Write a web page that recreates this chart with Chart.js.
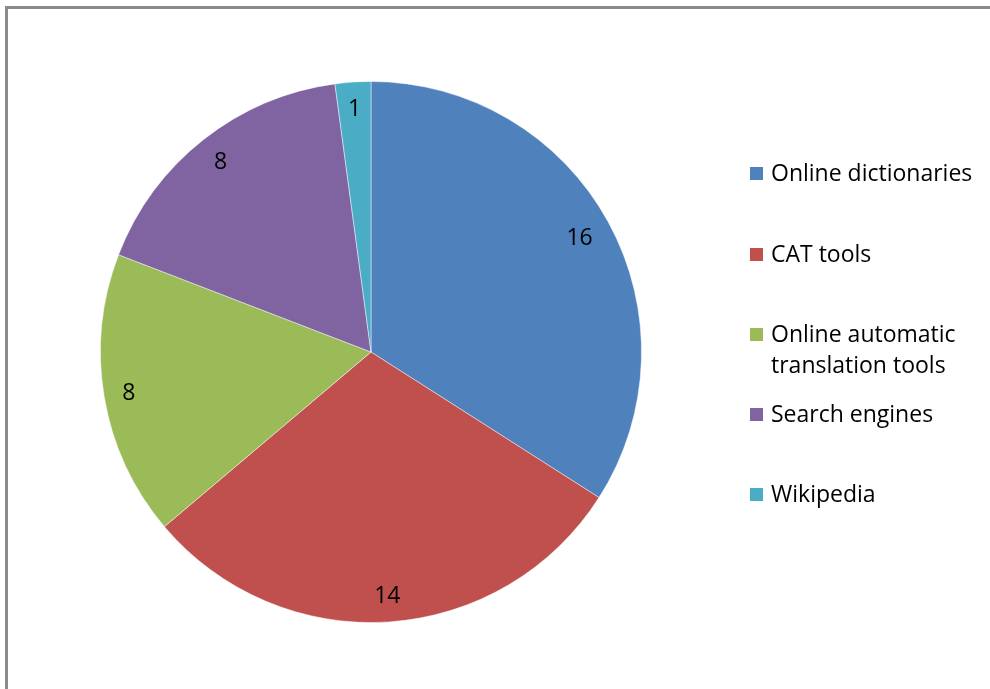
<!DOCTYPE html>
<html>
<head>
<meta charset="utf-8">
<script src="https://cdn.jsdelivr.net/npm/chart.js@4"></script>
<style>
  body { margin: 0; background: #fff; overflow: hidden; }
  #wrap { position: relative; width: 990px; height: 689px; }
  #frame {
    position: absolute; left: 5px; top: 6px; width: 1000px; height: 700px;
    border: 3px solid #8a8a8a; box-sizing: border-box;
  }
  #pie { position: absolute; left: 0; top: 0; }
</style>
</head>
<body>
<div id="wrap">
  <div id="frame"></div>
  <canvas id="pie" width="990" height="689"></canvas>
</div>
<script>
// === DATA ===
const categories = [
  'Online dictionaries',
  'CAT tools',
  ['Online automatic', 'translation tools'],
  'Search engines',
  'Wikipedia'
];
const counts = [16, 14, 8, 8, 1];
const colors = ['#4f81bd', '#c0504d', '#9bbb59', '#8064a2', '#4bacc6'];

const FONT = '"Open Sans", sans-serif';
const FONT_SIZE = 23;

// value labels tucked inside the outer edge of each slice
const sliceLabels = {
  id: 'sliceLabels',
  afterDatasetsDraw(chart) {
    const ctx = chart.ctx;
    const meta = chart.getDatasetMeta(0);
    ctx.save();
    ctx.font = FONT_SIZE + 'px ' + FONT;
    ctx.fillStyle = '#000';
    ctx.textAlign = 'center';
    ctx.textBaseline = 'middle';
    meta.data.forEach((arc, i) => {
      const txt = String(counts[i]);
      const mid = (arc.startAngle + arc.endAngle) / 2;
      const cx = Math.cos(mid), cy = Math.sin(mid);
      const hw = ctx.measureText(txt).width / 2, hh = 8.5;
      // keep the text box clear of the rim
      const r = arc.outerRadius - 17 - (Math.abs(cx) * hw + Math.abs(cy) * hh);
      ctx.fillText(txt, arc.x + cx * r, arc.y + cy * r + 1);
    });
    ctx.restore();
  }
};

// legend on the right, drawn by hand so the wrapped label fits
const sideLegend = {
  id: 'sideLegend',
  afterDraw(chart) {
    const ctx = chart.ctx;
    const rows = [173, 254, 334, 414, 494];
    const lineH = 31;
    ctx.save();
    ctx.font = FONT_SIZE + 'px ' + FONT;
    ctx.textBaseline = 'middle';
    chart.data.labels.forEach((lab, i) => {
      const y = rows[i];
      ctx.fillStyle = colors[i];
      ctx.fillRect(750, y - 6, 13, 13);
      ctx.fillStyle = '#000';
      const lines = Array.isArray(lab) ? lab : [lab];
      lines.forEach((t, j) => ctx.fillText(t, 771, y + 1 + j * lineH));
    });
    ctx.restore();
  }
};

new Chart(document.getElementById('pie'), {
  type: 'pie',
  data: {
    labels: categories,
    datasets: [{
      data: counts,
      backgroundColor: colors,
      borderColor: 'rgba(255,255,255,0.45)',
      borderWidth: 1
    }]
  },
  options: {
    responsive: false,
    animation: false,
    layout: { padding: { left: 100, right: 348, top: 81, bottom: 66 } },
    plugins: {
      legend: { display: false },
      tooltip: { enabled: false }
    }
  },
  plugins: [sliceLabels, sideLegend]
});
</script>
</body>
</html>
